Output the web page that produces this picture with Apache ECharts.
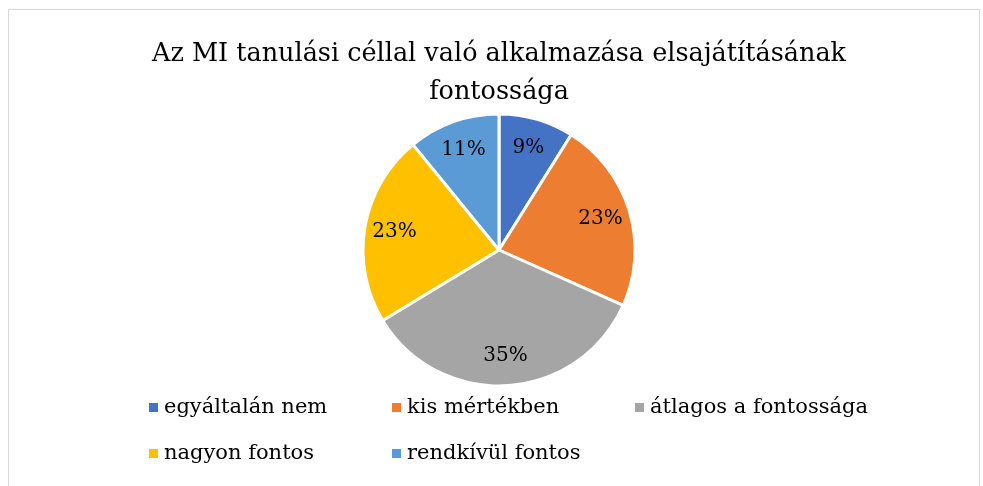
<!DOCTYPE html>
<html>
<head>
<meta charset="utf-8">
<script src="https://cdn.jsdelivr.net/npm/echarts@6/dist/echarts.min.js"></script>
<style>
  html, body { margin: 0; padding: 0; background: #fff; }
  #pieChart { width: 983px; height: 486px; }
</style>
</head>
<body>
<div id="pieChart"></div>
<script>
// adatok
const categories = ['egyáltalán nem', 'kis mértékben', 'átlagos a fontossága', 'nagyon fontos', 'rendkívül fontos']
const percentValues = [9, 23, 35, 23, 11]
const colors = ['#4472C4', '#ED7D31', '#A5A5A5', '#FFC000', '#5B9BD5']
const titleText = 'Az MI tanulási céllal való alkalmazása elsajátításának\nfontossága'

const serif = 'DejaVu Serif'
const chart = echarts.init(document.getElementById('pieChart'))

const pieData = categories.map((name, i) => ({ name, value: percentValues[i] }))

chart.setOption({
  animation: false,
  color: colors,
  graphic: [{
    type: 'rect',
    shape: { x: 8.5, y: 9.5, width: 971, height: 500 },
    style: { fill: 'none', stroke: '#d9d9d9', lineWidth: 1 },
    silent: true
  }],
  title: {
    text: titleText,
    left: 499,
    textAlign: 'center',
    top: 35,
    padding: 0,
    textStyle: {
      fontFamily: serif,
      fontSize: 25.5,
      fontWeight: 'normal',
      color: '#000',
      lineHeight: 38
    }
  },
  legend: {
    left: 147,
    top: 396,
    width: 740,
    padding: 0,
    itemWidth: 11,
    itemHeight: 11,
    itemGap: 23,
    icon: 'rect',
    data: categories,
    textStyle: {
      fontFamily: serif,
      fontSize: 21,
      color: '#000',
      width: 203,
      lineHeight: 23
    }
  },
  series: [
    {
      // látható kördiagram
      type: 'pie',
      center: [499, 250],
      radius: [0, 136],
      startAngle: 90,
      clockwise: true,
      itemStyle: { borderColor: '#fff', borderWidth: 3 },
      label: { show: false },
      labelLine: { show: false },
      emphasis: { disabled: true },
      data: pieData
    },
    {
      // csak a feliratok, kijjebb tolva
      type: 'pie',
      center: [499, 250],
      radius: [0, 206],
      startAngle: 90,
      clockwise: true,
      silent: true,
      z: 3,
      itemStyle: { color: 'rgba(0,0,0,0)', borderWidth: 0 },
      label: {
        show: true,
        position: 'inside',
        formatter: '{c}%',
        fontFamily: serif,
        fontSize: 20,
        color: '#000'
      },
      labelLine: { show: false },
      emphasis: { disabled: true },
      data: pieData
    }
  ]
})
</script>
</body>
</html>
